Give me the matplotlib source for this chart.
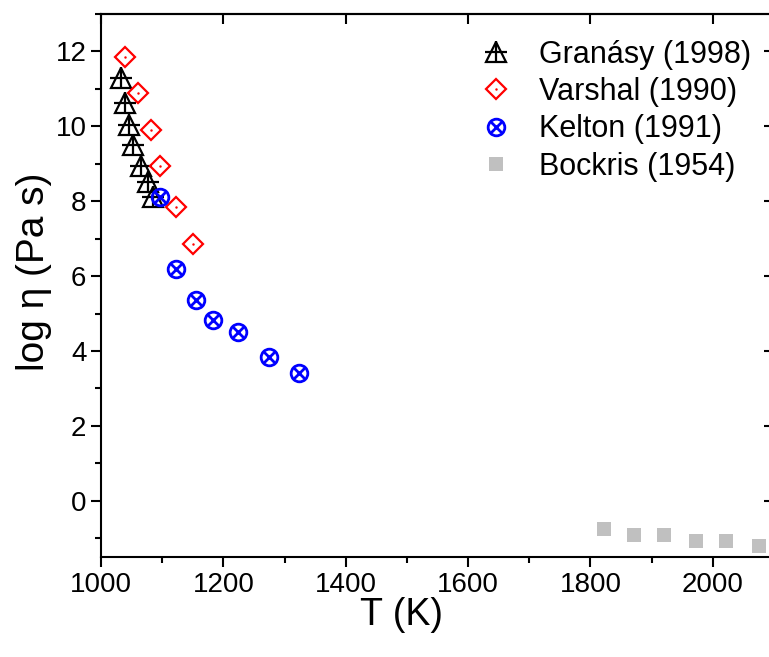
import matplotlib
matplotlib.use("Agg")
import matplotlib.pyplot as plt
from matplotlib.lines import Line2D
from matplotlib.ticker import MultipleLocator

plt.rcParams['font.family'] = ['Liberation Sans', 'DejaVu Sans']

# data
granasy_T = [1033, 1040, 1045, 1053, 1065, 1077, 1085]
granasy_eta = [11.30, 10.62, 10.04, 9.50, 8.94, 8.52, 8.12]

varshal_T = [1040, 1061, 1081, 1097, 1122, 1151]
varshal_eta = [11.84, 10.89, 9.91, 8.94, 7.84, 6.87]

kelton_T = [1097, 1122, 1155, 1183, 1224, 1274, 1323]
kelton_eta = [8.12, 6.18, 5.37, 4.82, 4.52, 3.84, 3.42]

bockris_T = [1822, 1871, 1920, 1973, 2022, 2076]
bockris_eta = [-0.76, -0.91, -0.91, -1.06, -1.06, -1.21]

labels = ["Granásy (1998)", "Varshal (1990)", "Kelton (1991)", "Bockris (1954)"]

fig = plt.figure(figsize=(7.69, 6.57), dpi=100)
ax = fig.add_axes([0.1313, 0.1522, 0.8752, 0.8265])

# granasy: triangle with a cross through it
ax.plot(granasy_T, granasy_eta, ls="none", marker="^", ms=14, mfc="none",
        mec="black", mew=1.6)
ax.plot(granasy_T, granasy_eta, ls="none", marker="+", ms=16, mec="black", mew=1.6)

# varshal: open diamond with a tiny dot
ax.plot(varshal_T, varshal_eta, ls="none", marker="D", ms=10, mfc="none",
        mec="red", mew=1.6)
ax.plot(varshal_T, varshal_eta, ls="none", marker=".", ms=1.5, mec="red", mfc="red")

# kelton: circle with x
ax.plot(kelton_T, kelton_eta, ls="none", marker="o", ms=12, mfc="none",
        mec="blue", mew=2)
ax.plot(kelton_T, kelton_eta, ls="none", marker="x", ms=9, mec="blue", mew=2)

# bockris: grey squares
ax.plot(bockris_T, bockris_eta, ls="none", marker="s", ms=10.5, mfc="#c0c0c0",
        mec="#c0c0c0", mew=0)

ax.set_xlim(1000, 2100)
ax.set_ylim(-1.5, 13)
ax.xaxis.set_major_locator(MultipleLocator(200))
ax.xaxis.set_minor_locator(MultipleLocator(100))
ax.yaxis.set_major_locator(MultipleLocator(2))
ax.yaxis.set_minor_locator(MultipleLocator(1))

for s in ax.spines.values():
    s.set_linewidth(1.5)
ax.tick_params(which="major", direction="out", length=7, width=1.5, labelsize=20)
ax.tick_params(which="minor", direction="out", length=4, width=1.5)

# inward ticks on top and right
top = ax.secondary_xaxis("top")
top.xaxis.set_major_locator(MultipleLocator(200))
top.tick_params(direction="in", length=7, width=1.5, labeltop=False)
top.spines["top"].set_linewidth(1.5)
right = ax.secondary_yaxis("right")
right.yaxis.set_major_locator(MultipleLocator(2))
right.tick_params(direction="in", length=7, width=1.5, labelright=False)
right.spines["right"].set_linewidth(1.5)

ax.set_xlabel("T (K)", fontsize=27)
ax.set_ylabel("log η (Pa s)", fontsize=28)
ax.xaxis.set_label_coords(0.446, -0.074)
ax.yaxis.set_label_coords(-0.073, 0.525)

h1 = (Line2D([], [], ls="none", marker="^", ms=14, mfc="none", mec="black", mew=1.6),
      Line2D([], [], ls="none", marker="+", ms=16, mec="black", mew=1.6))
h2 = (Line2D([], [], ls="none", marker="D", ms=10, mfc="none", mec="red", mew=1.6),
      Line2D([], [], ls="none", marker=".", ms=1.5, mec="red", mfc="red"))
h3 = (Line2D([], [], ls="none", marker="o", ms=12, mfc="none", mec="blue", mew=2),
      Line2D([], [], ls="none", marker="x", ms=9, mec="blue", mew=2))
h4 = Line2D([], [], ls="none", marker="s", ms=10.5, mfc="#c0c0c0", mec="#c0c0c0", mew=0)

ax.legend([h1, h2, h3, h4], labels, loc="upper left",
          bbox_to_anchor=(0.533, 0.992), frameon=False, fontsize=22,
          handlelength=1.0, handletextpad=0.9, labelspacing=0.24,
          borderpad=0.2)

fig.savefig("out.png", dpi=100)
